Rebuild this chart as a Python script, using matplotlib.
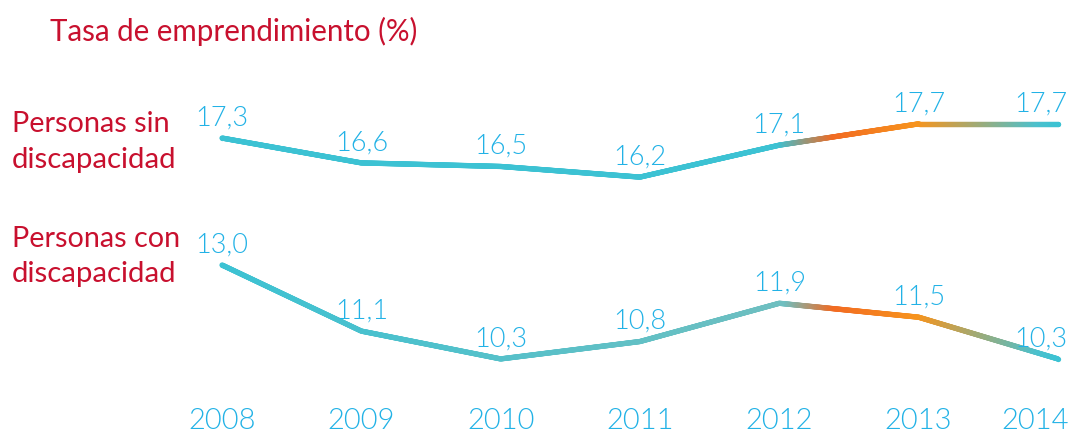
import numpy as np
import matplotlib
matplotlib.use("Agg")
import matplotlib.pyplot as plt
from matplotlib.collections import LineCollection
from matplotlib.colors import to_rgb

# ---- data ----
years = ["2008", "2009", "2010", "2011", "2012", "2013", "2014"]
sin_disc = [17.3, 16.6, 16.5, 16.2, 17.1, 17.7, 17.7]
con_disc = [13.0, 11.1, 10.3, 10.8, 11.9, 11.5, 10.3]
sin_labels = ["17,3", "16,6", "16,5", "16,2", "17,1", "17,7", "17,7"]
con_labels = ["13,0", "11,1", "10,3", "10,8", "11,9", "11,5", "10,3"]
title = "Tasa de emprendimiento (%)"
series_names = [("Personas sin", "discapacidad"), ("Personas con", "discapacidad")]

# ---- style ----
RED = "#C8102E"
CYAN = "#3CC2D3"
TXT = "#22B2E6"
W, H = 1080, 433

fig = plt.figure(figsize=(W / 100, H / 100), dpi=100)
fig.patch.set_facecolor("white")

x = np.arange(len(years))
xlim = (-1.594, 6.159)

ax1 = fig.add_axes([0, 0, 1, 1])
ax2 = fig.add_axes([0, 0, 1, 1])
for ax in (ax1, ax2):
    ax.set_xlim(*xlim)
    ax.axis("off")
    ax.patch.set_alpha(0)
ax1.set_ylim(8.99, 21.19)
ax2.set_ylim(8.17, 20.62)

stops_top = [(0.0, CYAN), (4.0, CYAN), (4.4, "#F26B22"), (5.0, "#F7941D"),
             (5.85, "#4DC0CC"), (6.0, CYAN)]
stops_bot = [(0.0, CYAN), (4.05, "#6FBFC0"), (4.4, "#F26B22"), (5.0, "#F7941D"),
             (5.85, "#4DC0CC"), (6.0, CYAN)]


def grad_line(ax, xs, ys, stops, lw=3.8):
    xs = np.asarray(xs, float)
    ys = np.asarray(ys, float)
    xf = np.linspace(xs[0], xs[-1], 1200)
    yf = np.interp(xf, xs, ys)
    pos = [s[0] for s in stops]
    cols = np.array([to_rgb(s[1]) for s in stops])
    pts = np.column_stack([xf, yf]).reshape(-1, 1, 2)
    segs = np.concatenate([pts[:-1], pts[1:]], axis=1)
    mid = (xf[:-1] + xf[1:]) / 2
    c = np.column_stack([np.interp(mid, pos, cols[:, k]) for k in range(3)])
    lc = LineCollection(segs, colors=c, linewidths=lw, capstyle="round",
                        joinstyle="round")
    ax.add_collection(lc)
    ax.plot([xs[0]], [ys[0]], marker="o", ms=lw, color=c[0], mec="none")
    ax.plot([xs[-1]], [ys[-1]], marker="o", ms=lw, color=c[-1], mec="none")


grad_line(ax1, x, sin_disc, stops_top)
grad_line(ax2, x, con_disc, stops_bot)

valfont = dict(family="Lato", fontweight=300, color=TXT, fontsize=19.5)
n = len(years)
for ax, vals, labs in ((ax1, sin_disc, sin_labels), (ax2, con_disc, con_labels)):
    for i, (xi, v, lab) in enumerate(zip(x, vals, labs)):
        if i == n - 1:
            ax.annotate(lab, (xi, v), xytext=(7, 9), textcoords="offset points",
                        ha="right", va="baseline", **valfont)
        else:
            ax.annotate(lab, (xi, v), xytext=(0, 9), textcoords="offset points",
                        ha="center", va="baseline", **valfont)

for i, (xi, yr) in enumerate(zip(x, years)):
    t = ax1.annotate(yr, (xi, 4 / H), xycoords=ax1.get_xaxis_transform(),
                     xytext=((8, 0) if i == n - 1 else (0, 0)),
                     textcoords="offset points",
                     ha=("right" if i == n - 1 else "center"), va="baseline",
                     family="Lato", fontweight=300, color=TXT, fontsize=21)

renderer = fig.canvas.get_renderer()


def fit_text(xpx, base_px, s, width_px, fs=20):
    t = fig.text(xpx / W, 1 - base_px / H, s, ha="left", va="baseline",
                 color=RED, family="Lato", fontsize=fs)
    bb = t.get_window_extent(renderer=renderer)
    t.set_fontsize(fs * width_px / bb.width)
    return t


fit_text(50, 41, title, 368)
fit_text(12, 132, series_names[0][0], 158)
fit_text(12, 168, series_names[0][1], 165)
fit_text(12, 247, series_names[1][0], 168)
fit_text(12, 282, series_names[1][1], 165)

fig.savefig("out.png", dpi=100, facecolor="white")
